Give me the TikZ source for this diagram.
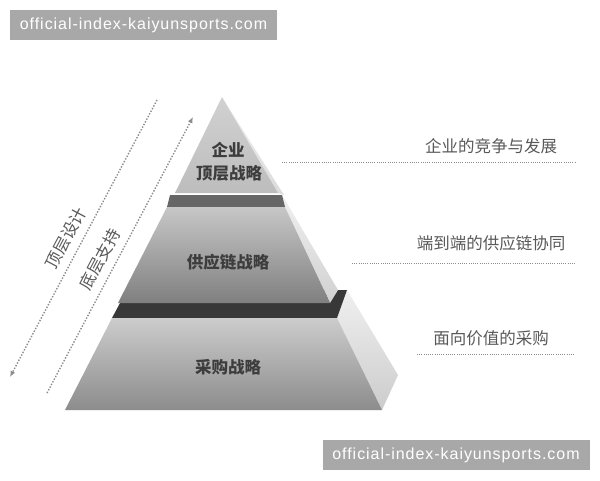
\documentclass[tikz,border=0pt]{standalone}
\usepackage{fontspec}
\usetikzlibrary{arrows.meta}
\newfontfamily\cjk{Noto Sans CJK SC}
\newfontfamily\wmfont[LetterSpace=6]{Liberation Sans}
\definecolor{wmbox}{gray}{0.66}
\definecolor{dotcol}{gray}{0.55}
\definecolor{pyrtext}{gray}{0.24}
\definecolor{labtext}{gray}{0.35}
\definecolor{bandA}{gray}{0.40}
\definecolor{bandB}{gray}{0.22}
\begin{document}
\begin{tikzpicture}[x=1pt,y=-1pt,
  wm/.style={fill=wmbox,minimum width=267pt,minimum height=30pt,inner sep=0pt,text=white,font=\wmfont\fontsize{16}{18}\selectfont},
  pyr/.style={text=pyrtext,font=\cjk\bfseries\fontsize{16.5}{18}\selectfont,inner sep=0pt},
  lab/.style={text=labtext,font=\cjk\fontsize{16.5}{18}\selectfont,inner sep=0pt},
  sidelab/.style={text=labtext,font=\cjk\fontsize{16.5}{18}\selectfont,inner sep=1pt},
  dotline/.style={draw=dotcol,line width=0.9pt,dash pattern=on 0.9pt off 1.3pt},
  diag/.style={draw=dotcol,line width=1.4pt,dash pattern=on 1.4pt off 1.6pt,-{Latex[length=6pt,width=5pt]}}
]
\useasboundingbox (0,0) rectangle (600,480);
\fill[white] (0,0) rectangle (600,480);

% watermarks
\node[wm] (wm1) at (143.5,25) {official-index-kaiyunsports.com};
\node[wm] (wm2) at (456,455) {official-index-kaiyunsports.com};

% tier 3 (bottom)
\shade[top color=black!6,bottom color=black!20] (337,318) -- (347,290) -- (398,375) -- (382,410) -- cycle;
\fill[bandB] (112,318) -- (337,318) -- (347,290) -- (127,290) -- cycle;
\shade[top color=black!20,bottom color=black!45] (112,318) -- (337,318) -- (382,410) -- (65,410) -- cycle;

% tier 2
\shade[top color=black!6,bottom color=black!18] (282,195) -- (338,290) -- (330,303) -- (285,207) -- cycle;
\fill[bandA] (170,195) -- (282,195) -- (285,207) -- (167,207) -- cycle;
\shade[top color=black!22,bottom color=black!50] (167,207) -- (285,207) -- (330,303) -- (118,303) -- cycle;

% tier 1 (top)
\shade[top color=black!6,bottom color=black!14] (222,97) -- (284,195) -- (278,193) -- cycle;
\shade[top color=black!18,bottom color=black!26] (222,97) -- (278,193) -- (175,193) -- cycle;

% pyramid texts
\node[pyr] (t1a) at (228,150) {企业};
\node[pyr] (t1b) at (229,173) {顶层战略};
\node[pyr] (t2) at (228,262) {供应链战略};
\node[pyr] (t3) at (228,367) {采购战略};

% right labels
\node[lab] (r1) at (491,146) {企业的竞争与发展};
\node[lab] (r2) at (491,243) {端到端的供应链协同};
\node[lab] (r3) at (491,338) {面向价值的采购};
\coordinate (l1a) at (282,162); \coordinate (l1b) at (575,162);
\coordinate (l2a) at (352,263); \coordinate (l2b) at (575,263);
\coordinate (l3a) at (417,354); \coordinate (l3b) at (575,354);
\draw[dotline] (l1a) -- (l1b);
\draw[dotline] (l2a) -- (l2b);
\draw[dotline] (l3a) -- (l3b);

% diagonal arrows
\coordinate (o1) at (157,100); \coordinate (o2) at (10,377);
\coordinate (i1) at (47,393); \coordinate (i2) at (193,117);
\draw[diag] (o1) -- (o2);
\draw[diag] (i1) -- (i2);
\path (o2) -- (o1) node[pos=0.475,sloped,above=7pt,sidelab] (d1) {顶层设计};
\path (i1) -- (i2) node[pos=0.458,sloped,above=7pt,sidelab] (d2) {底层支持};
\end{tikzpicture}
\end{document}
